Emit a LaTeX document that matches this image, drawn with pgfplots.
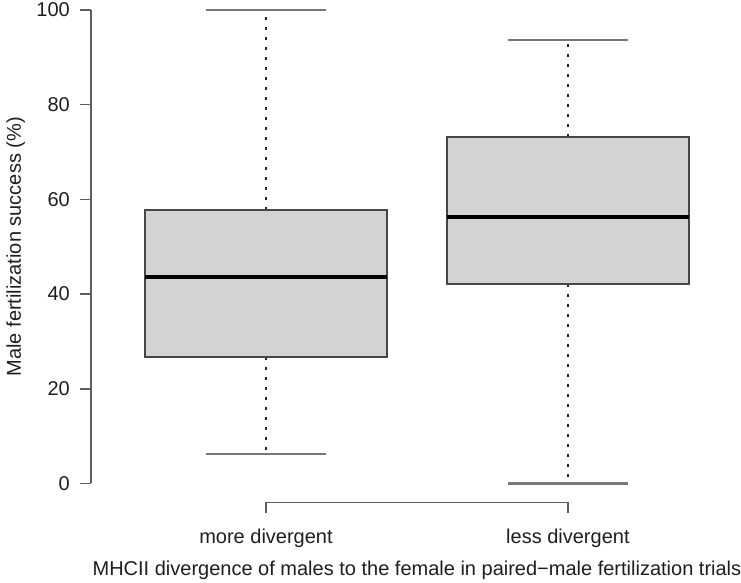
\documentclass[border=0pt]{standalone}
\usepackage{fontspec}
\setmainfont{Liberation Sans}
\usepackage{pgfplots}
\pgfplotsset{compat=1.18}
\usepgfplotslibrary{statistics}
\definecolor{boxfill}{RGB}{211,211,211}
\definecolor{boxedge}{RGB}{70,70,70}
\definecolor{axisgray}{RGB}{95,95,95}
\definecolor{capgray}{RGB}{120,120,120}
\definecolor{textcol}{RGB}{30,30,30}

\begin{document}
\begin{tikzpicture}[font=\fontsize{10bp}{12bp}\selectfont, text=textcol]
\begin{axis}[
  x=150.95bp, y=2.3675bp,
  xmin=0.42, xmax=2.58, ymin=-4, ymax=104,
  axis x line*=bottom, axis y line*=left,
  axis line style={draw=none},
  tick align=outside,
  major tick length=5.5bp,
  tick style={axisgray, line width=0.8bp},
  xtick={1,2}, xticklabels={more divergent, less divergent},
  ytick={0,20,...,100},
  xticklabel style={anchor=base, yshift=-15bp},
  yticklabel style={xshift=-1.5bp},
  /pgf/number format/assume math mode=true,
  xlabel={MHCII divergence of males to the female in paired−male fertilization trials},
  ylabel={Male fertilization success (\%)},
  xlabel style={at={(axis description cs:0.5,-0.1437)}, anchor=base},
  ylabel style={at={(axis description cs:-0.1074,0.5)}, anchor=base},
  clip=false,
  boxplot/draw direction=y,
  boxplot/draw/lower whisker/.code={
    \draw[black!85, line width=0.9bp, dash pattern=on 1.5bp off 3.5bp]
      (boxplot cs:\pgfplotsboxplotvalue{lower quartile}) --
      (boxplot cs:\pgfplotsboxplotvalue{lower whisker});
    \draw[capgray, line width=1.2bp]
      (boxplot whisker cs:\pgfplotsboxplotvalue{lower whisker},0) --
      (boxplot whisker cs:\pgfplotsboxplotvalue{lower whisker},1);
  },
  boxplot/draw/upper whisker/.code={
    \draw[black!85, line width=0.9bp, dash pattern=on 1.5bp off 3.5bp]
      (boxplot cs:\pgfplotsboxplotvalue{upper quartile}) --
      (boxplot cs:\pgfplotsboxplotvalue{upper whisker});
    \draw[capgray, line width=1.2bp]
      (boxplot whisker cs:\pgfplotsboxplotvalue{upper whisker},0) --
      (boxplot whisker cs:\pgfplotsboxplotvalue{upper whisker},1);
  },
  boxplot/every box/.style={fill=boxfill, draw=boxedge, line width=1bp},
  boxplot/every median/.style={black, line width=2bp},
  boxplot/box extend=0.8,
  boxplot/whisker extend=0.4,
]
% more divergent
\addplot[black, boxplot prepared={draw position=1,
  lower whisker=6.2, lower quartile=26.8, median=43.6,
  upper quartile=57.8, upper whisker=100}] coordinates {};
% less divergent
\addplot[black, boxplot prepared={draw position=2,
  lower whisker=0, lower quartile=42.1, median=56.2,
  upper quartile=73.2, upper whisker=93.7}] coordinates {};

% R-style axis lines: from first to last tick only
\draw[axisgray, line width=0.8bp] (axis cs:0.42,0) -- (axis cs:0.42,100);
\draw[axisgray, line width=0.8bp] (axis cs:1,-4) -- (axis cs:2,-4);
\coordinate (O) at (axis cs:1,0);
\end{axis}
\pgfresetboundingbox
\path[use as bounding box] ([shift={(-133bp,-49.75bp)}]O) rectangle ([shift={(237.5bp,241.75bp)}]O);
\end{tikzpicture}
\end{document}
